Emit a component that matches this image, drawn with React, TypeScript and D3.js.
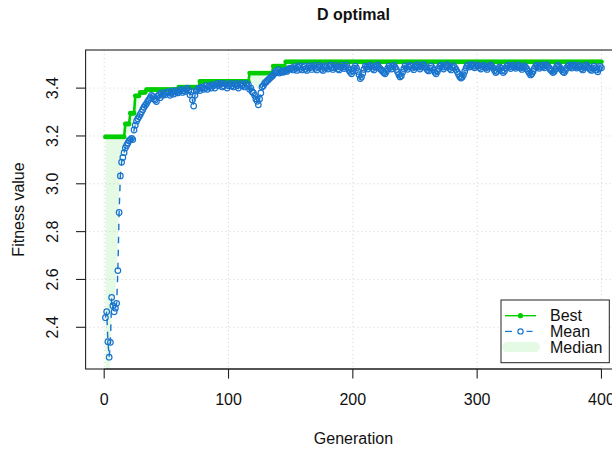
import * as d3 from 'd3'

const title = 'D optimal'
const xLabel = 'Generation'
const yLabel = 'Fitness value'
const xTicks = [0, 100, 200, 300, 400]
const yTicks = [2.4, 2.6, 2.8, 3.0, 3.2, 3.4]
const legendLabels = ['Best', 'Mean', 'Median']

// best fitness per generation, stored as runs: [last generation of run, value]
const bestRuns: [number, number][] = [
  [16, 3.196], [20, 3.25], [24, 3.295], [28, 3.368], [33, 3.382], [59, 3.394],
  [76, 3.404], [116, 3.428], [135, 3.463], [145, 3.492], [400, 3.51],
]

// median fitness, same run format
const medianRuns: [number, number][] = [
  [1, 2.25], [2, 2.2], [3, 2.18], [4, 2.2], [5, 2.28], [6, 2.45], [7, 2.5], [8, 2.52],
  [9, 2.55], [10, 2.62], [11, 2.76], [12, 2.95], [13, 3.07], [14, 3.12], [15, 3.15],
  [16, 3.17], [17, 3.19], [18, 3.2], [19, 3.21], [20, 3.22], [21, 3.23], [22, 3.24],
  [23, 3.25], [24, 3.26], [25, 3.28], [26, 3.3], [27, 3.32], [28, 3.34], [29, 3.35],
  [30, 3.36], [31, 3.37], [32, 3.375], [33, 3.38], [34, 3.385], [59, 3.394], [76, 3.404],
  [117, 3.428], [118, 3.425], [119, 3.42], [120, 3.415], [121, 3.41], [122, 3.405],
  [124, 3.4], [125, 3.405], [126, 3.415], [127, 3.428], [128, 3.435], [129, 3.445],
  [130, 3.455], [135, 3.463], [136, 3.47], [137, 3.48], [145, 3.492], [400, 3.51],
]

// mean fitness, generations 1..400
const meanValues = [
  2.44, 2.465, 2.34, 2.275, 2.337, 2.525, 2.49, 2.465, 2.48, 2.5,
  2.637, 2.88, 3.033, 3.09, 3.11, 3.13, 3.15, 3.16, 3.17, 3.18,
  3.185, 3.19, 3.185, 3.225, 3.245, 3.262, 3.272, 3.28, 3.29, 3.3,
  3.31, 3.32, 3.328, 3.335, 3.345, 3.352, 3.36, 3.37, 3.365, 3.355,
  3.35, 3.344, 3.365, 3.372, 3.36, 3.38, 3.37, 3.378, 3.372, 3.383,
  3.38, 3.385, 3.37, 3.378, 3.388, 3.375, 3.384, 3.389, 3.38, 3.384,
  3.39, 3.395, 3.382, 3.39, 3.386, 3.394, 3.4, 3.39, 3.372, 3.385,
  3.35, 3.325, 3.37, 3.388, 3.395, 3.4, 3.39, 3.4, 3.405, 3.395,
  3.4, 3.41, 3.395, 3.405, 3.41, 3.4, 3.415, 3.41, 3.4, 3.415,
  3.42, 3.41, 3.415, 3.42, 3.405, 3.41, 3.42, 3.415, 3.4, 3.41,
  3.415, 3.42, 3.41, 3.405, 3.415, 3.42, 3.41, 3.4, 3.415, 3.42,
  3.41, 3.415, 3.405, 3.42, 3.41, 3.415, 3.395, 3.4, 3.385, 3.38,
  3.37, 3.355, 3.345, 3.33, 3.355, 3.38, 3.405, 3.41, 3.42, 3.425,
  3.43, 3.435, 3.44, 3.445, 3.45, 3.455, 3.463, 3.47, 3.465, 3.477,
  3.463, 3.468, 3.472, 3.466, 3.47, 3.474, 3.47, 3.478, 3.482, 3.48,
  3.485, 3.476, 3.49, 3.482, 3.474, 3.488, 3.494, 3.482, 3.476, 3.487,
  3.492, 3.48, 3.474, 3.486, 3.494, 3.486, 3.478, 3.489, 3.495, 3.483,
  3.476, 3.488, 3.496, 3.488, 3.479, 3.474, 3.487, 3.494, 3.486, 3.48,
  3.49, 3.497, 3.486, 3.478, 3.486, 3.495, 3.488, 3.48, 3.476, 3.488,
  3.496, 3.488, 3.482, 3.489, 3.497, 3.485, 3.474, 3.466, 3.46, 3.472,
  3.484, 3.492, 3.484, 3.47, 3.456, 3.44, 3.446, 3.462, 3.478, 3.492,
  3.488, 3.48, 3.489, 3.496, 3.49, 3.482, 3.476, 3.488, 3.494, 3.497,
  3.487, 3.48, 3.476, 3.47, 3.464, 3.46, 3.47, 3.482, 3.492, 3.486,
  3.48, 3.49, 3.496, 3.487, 3.478, 3.468, 3.456, 3.447, 3.452, 3.466,
  3.48, 3.493, 3.486, 3.479, 3.489, 3.496, 3.492, 3.484, 3.477, 3.488,
  3.495, 3.498, 3.488, 3.48, 3.488, 3.496, 3.498, 3.49, 3.483, 3.476,
  3.472, 3.484, 3.493, 3.485, 3.476, 3.466, 3.46, 3.47, 3.482, 3.492,
  3.496, 3.488, 3.48, 3.488, 3.495, 3.498, 3.49, 3.482, 3.476, 3.487,
  3.494, 3.486, 3.478, 3.468, 3.458, 3.448, 3.442, 3.446, 3.456, 3.47,
  3.484, 3.494, 3.497, 3.488, 3.495, 3.498, 3.491, 3.485, 3.492, 3.497,
  3.494, 3.486, 3.48, 3.49, 3.496, 3.49, 3.484, 3.478, 3.488, 3.494,
  3.497, 3.49, 3.483, 3.474, 3.465, 3.47, 3.48, 3.489, 3.483, 3.474,
  3.465, 3.472, 3.484, 3.492, 3.496, 3.488, 3.482, 3.49, 3.496, 3.489,
  3.483, 3.49, 3.497, 3.49, 3.484, 3.478, 3.487, 3.494, 3.487, 3.48,
  3.472, 3.463, 3.455, 3.46, 3.47, 3.482, 3.491, 3.496, 3.489, 3.483,
  3.49, 3.497, 3.49, 3.485, 3.494, 3.498, 3.49, 3.483, 3.477, 3.472,
  3.465, 3.47, 3.48, 3.491, 3.496, 3.489, 3.482, 3.476, 3.468, 3.465,
  3.474, 3.485, 3.492, 3.496, 3.489, 3.484, 3.493, 3.497, 3.49, 3.484,
  3.49, 3.496, 3.488, 3.481, 3.476, 3.486, 3.494, 3.497, 3.489, 3.483,
  3.478, 3.474, 3.484, 3.492, 3.485, 3.476, 3.468, 3.48, 3.491, 3.485,
]

function expandRuns(runs: [number, number][]) {
  const out: number[] = []
  let start = 1
  runs.forEach(([end, v]) => {
    for (let g = start; g <= end; g++) out.push(v)
    start = end + 1
  })
  return out
}

const W = 612
const H = 450
const plot = { left: 85.6, right: 621.3, top: 50, bottom: 369 }
const font = '"Liberation Sans", Arial, Helvetica, sans-serif'
const green = '#00CD00'
const blue = '#1874CD'
const shade = 'rgba(0,205,0,0.1)'

export default function App() {
  const best = expandRuns(bestRuns)
  const median = expandRuns(medianRuns)
  const rows = meanValues.map((m, i) => ({ gen: i + 1, mean: m, best: best[i], median: median[i] }))
  const n = rows.length

  // R-style 4% padding around the data range
  const xPad = 0.04 * (n - 1)
  const x = d3.scaleLinear().domain([1 - xPad, n + xPad]).range([plot.left, plot.right])
  const lo = d3.min(rows, (d) => Math.min(d.mean, d.best)) as number
  const hi = d3.max(rows, (d) => Math.max(d.mean, d.best)) as number
  const yPad = 0.04 * (hi - lo)
  const y = d3.scaleLinear().domain([lo - yPad, hi + yPad]).range([plot.bottom, plot.top])

  const shadeArea = d3
    .area<any>()
    .x((d) => x(d.gen))
    .y0((d) => y(d.median))
    .y1((d) => y(d.best))
  const bestLine = d3.line<any>().x((d) => x(d.gen)).y((d) => y(d.best))
  const meanLine = d3.line<any>().x((d) => x(d.gen)).y((d) => y(d.mean))

  const midX = (plot.left + plot.right) / 2
  const midY = (plot.top + plot.bottom) / 2
  const lg = { x: 501, y: 300, w: 108.3, h: 62.7, row: 15.7 }

  return (
    <svg
      width={W}
      height={H}
      style={{ position: 'absolute', left: 0, top: 0, background: '#fff' }}
      fontFamily={font}
    >
      <defs>
        <clipPath id="plotClip">
          <rect x={plot.left} y={plot.top} width={plot.right - plot.left} height={plot.bottom - plot.top} />
        </clipPath>
      </defs>

      {/* grid */}
      <g stroke="#D3D3D3" strokeDasharray="1,3" strokeWidth={1}>
        {xTicks.map((t) => (
          <line key={'gx' + t} x1={x(t)} x2={x(t)} y1={plot.top} y2={plot.bottom} />
        ))}
        {yTicks.map((t) => (
          <line key={'gy' + t} x1={plot.left} x2={plot.right} y1={y(t)} y2={y(t)} />
        ))}
      </g>

      <g clipPath="url(#plotClip)">
        <path d={shadeArea(rows) as string} fill={shade} stroke="none" />
        <path d={bestLine(rows) as string} fill="none" stroke={green} strokeWidth={2.6} />
        {rows.map((d) => (
          <circle key={'b' + d.gen} cx={x(d.gen)} cy={y(d.best)} r={2.4} fill={green} />
        ))}
        <path d={meanLine(rows) as string} fill="none" stroke={blue} strokeWidth={1.4} strokeDasharray="6.5,6.5" />
        {rows.map((d) => (
          <circle key={'m' + d.gen} cx={x(d.gen)} cy={y(d.mean)} r={2.8} fill="none" stroke={blue} strokeWidth={1.2} />
        ))}
      </g>

      {/* box */}
      <rect
        x={plot.left}
        y={plot.top}
        width={plot.right - plot.left}
        height={plot.bottom - plot.top}
        fill="none"
        stroke="#222"
        strokeWidth={1.1}
      />

      {/* axes */}
      <g stroke="#222" strokeWidth={1.1}>
        <line x1={x(xTicks[0])} x2={x(xTicks[xTicks.length - 1])} y1={plot.bottom} y2={plot.bottom} />
        {xTicks.map((t) => (
          <line key={'xt' + t} x1={x(t)} x2={x(t)} y1={plot.bottom} y2={plot.bottom + 9.6} />
        ))}
        {yTicks.map((t) => (
          <line key={'yt' + t} x1={plot.left} x2={plot.left - 9.6} y1={y(t)} y2={y(t)} />
        ))}
      </g>
      <g fontSize={16} fill="#111" textAnchor="middle">
        {xTicks.map((t) => (
          <text key={'xl' + t} x={x(t)} y={405}>
            {t}
          </text>
        ))}
        {yTicks.map((t) => (
          <text key={'yl' + t} transform={`translate(57.7,${y(t)}) rotate(-90)`}>
            {t.toFixed(1)}
          </text>
        ))}
        <text x={midX} y={444}>
          {xLabel}
        </text>
        <text transform={`translate(24,${midY}) rotate(-90)`}>{yLabel}</text>
        <text x={midX} y={19.5} fontWeight="bold">
          {title}
        </text>
      </g>

      {/* legend */}
      <g>
        <rect x={lg.x} y={lg.y} width={lg.w} height={lg.h} fill="#fff" stroke="#222" strokeWidth={1} />
        <line x1={505} x2={536} y1={lg.y + lg.row} y2={lg.y + lg.row} stroke={green} strokeWidth={1.4} />
        <circle cx={520.5} cy={lg.y + lg.row} r={2.6} fill={green} />
        <line x1={505} x2={512} y1={lg.y + lg.row * 2} y2={lg.y + lg.row * 2} stroke={blue} strokeWidth={1.2} />
        <line x1={526.5} x2={532.5} y1={lg.y + lg.row * 2} y2={lg.y + lg.row * 2} stroke={blue} strokeWidth={1.2} />
        <circle cx={520.5} cy={lg.y + lg.row * 2} r={2.6} fill="none" stroke={blue} strokeWidth={1.2} />
        <line
          x1={507}
          x2={535}
          y1={lg.y + lg.row * 3}
          y2={lg.y + lg.row * 3}
          stroke={shade}
          strokeWidth={10}
          strokeLinecap="round"
        />
        {legendLabels.map((l, i) => (
          <text key={l} x={550} y={lg.y + lg.row * (i + 1) + 5.7} fontSize={16} fill="#111">
            {l}
          </text>
        ))}
      </g>
    </svg>
  )
}
